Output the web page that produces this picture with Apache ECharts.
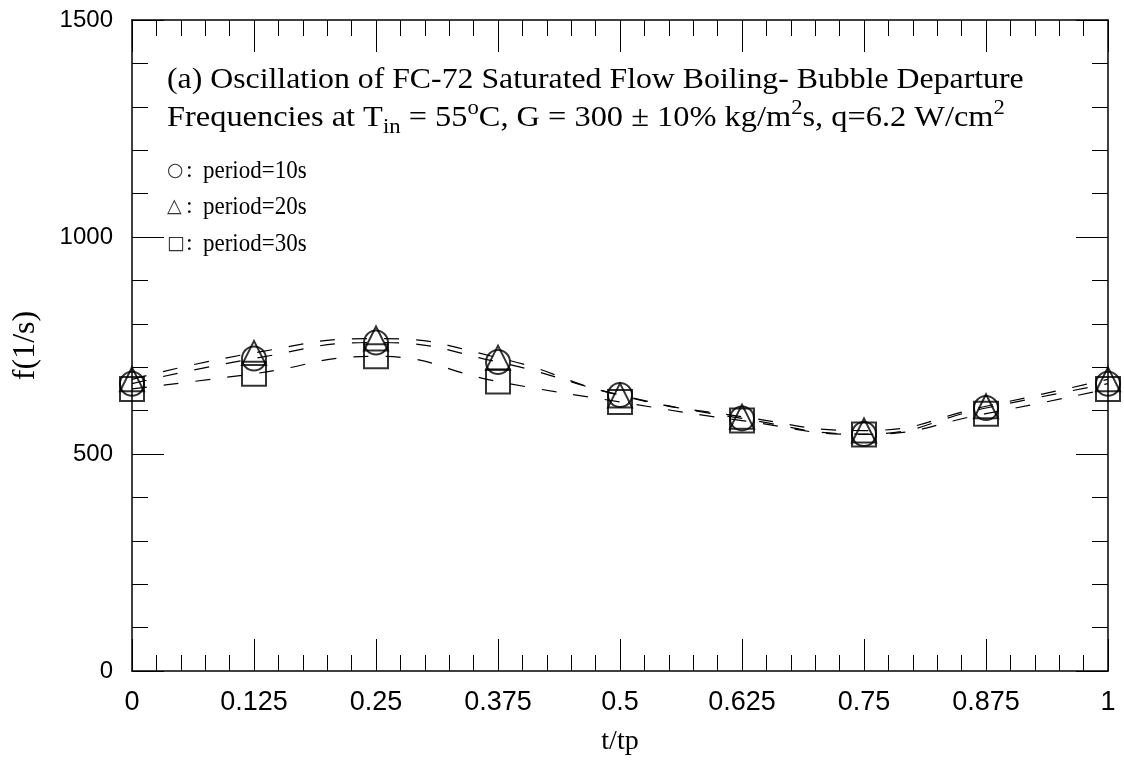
<!DOCTYPE html>
<html>
<head>
<meta charset="utf-8">
<script src="https://cdn.jsdelivr.net/npm/echarts@6/dist/echarts.min.js"></script>
<style>html,body{margin:0;padding:0;background:#fff;}#c{width:1124px;height:761px;}</style>
</head>
<body>
<div id="c"></div>
<script>
// ---- data ----
const tValues = [0, 0.125, 0.25, 0.375, 0.5, 0.625, 0.75, 0.875, 1];
const period10 = [662, 720, 757, 712, 636, 582, 546, 606, 662];
const period20 = [672, 733, 766, 722, 635, 586, 554, 610, 672];
const period30 = [650, 685, 725, 667, 620, 577, 545, 593, 650];
const xTicks = [0, 0.125, 0.25, 0.375, 0.5, 0.625, 0.75, 0.875, 1];
const yTicks = [0, 500, 1000, 1500];
const xTitle = 't/tp';
const yTitle = 'f(1/s)';
const noteLine1 = [['(a) Oscillation of FC-72 Saturated Flow Boiling- Bubble Departure', 'n']];
const noteLine2 = [['Frequencies at T', 'n'], ['in', 'sub'], [' = 55', 'n'], ['o', 'sup'], ['C, G = 300 \u00B1 10% kg/m', 'n'], ['2', 'sup'], ['s, q=6.2 W/cm', 'n'], ['2', 'sup']];
const legendSymbols = ['\u25CB', '\u25B3', '\u25A1'];
const legendTexts = ['period=10s', 'period=20s', 'period=30s'];

const pairs = a => tValues.map((t, i) => [t, a[i]]);

const SERIF = '"Liberation Serif", "Times New Roman", serif';
const SYMFONT = '"DejaVu Sans", sans-serif';
const ctx = document.createElement('canvas').getContext('2d');
function richLine(parts, x, yc, size) {
  const els = [];
  let cx = x;
  parts.forEach(([t, k]) => {
    const fs = k === 'n' ? size : Math.round(size * 0.7);
    const dy = k === 'sub' ? size * 0.33 : (k === 'sup' ? -size * 0.33 : 0);
    ctx.font = fs + 'px ' + SERIF;
    els.push({type: 'text', x: cx, y: yc + dy, style: {text: t, fontSize: fs, fontFamily: SERIF, fill: '#000', textAlign: 'left', textVerticalAlign: 'middle'}});
    cx += ctx.measureText(t).width;
  });
  return els;
}

const FS = 30;
const noteX = 167;
const graphics = [
  {type: 'group', x: noteX, y: 0, scaleX: 1.06, children: richLine(noteLine1, 0, 80, FS)},
  {type: 'group', x: noteX, y: 0, scaleX: 1.08, children: richLine(noteLine2, 0, 118, FS)}
];
const rowY = [171, 207, 244];
legendSymbols.forEach((s, i) => {
  graphics.push({type: 'text', x: 167, y: rowY[i], style: {text: s, fontSize: 19, fontFamily: SYMFONT, fill: '#333', textAlign: 'left', textVerticalAlign: 'middle'}});
  graphics.push({type: 'text', x: 186, y: rowY[i], style: {text: ':', fontSize: 24, fontFamily: SERIF, fill: '#000', textAlign: 'left', textVerticalAlign: 'middle'}});
  graphics.push({type: 'text', x: 203, y: rowY[i], scaleY: 1.1, style: {text: legendTexts[i], fontSize: 23, fontFamily: SERIF, fill: '#000', textAlign: 'left', textVerticalAlign: 'middle'}});
});

const axisCommon = {
  type: 'value', min: 0, max: 1, interval: 0.125,
  axisLine: {show: true, onZero: false, lineStyle: {color: '#000', width: 1.5}},
  axisTick: {show: true, inside: true, length: 32, lineStyle: {color: '#000', width: 1}},
  minorTick: {show: true, splitNumber: 5, length: 16, lineStyle: {color: '#000', width: 1}},
  splitLine: {show: false}, minorSplitLine: {show: false}
};
const yCommon = {
  type: 'value', min: 0, max: 1500, interval: 500,
  axisLine: {show: true, onZero: false, lineStyle: {color: '#000', width: 1.5}},
  axisTick: {show: true, inside: true, length: 32, lineStyle: {color: '#000', width: 1}},
  minorTick: {show: true, splitNumber: 5, length: 16, lineStyle: {color: '#000', width: 1}},
  splitLine: {show: false}, minorSplitLine: {show: false}
};

const markerStyle = {color: 'rgba(0,0,0,0)', borderColor: '#000', borderWidth: 2};
const lineSeries = (d) => ({type: 'line', data: pairs(d), smooth: 0.5, symbol: 'none', z: 1,
  lineStyle: {color: '#000', width: 1.2, type: [15, 17]}});
const scatterSeries = (d, sym) => ({type: 'scatter', data: pairs(d), symbol: sym, symbolSize: 24, z: 3,
  itemStyle: markerStyle});

const chart = echarts.init(document.getElementById('c'), null, {renderer: 'canvas'});
chart.setOption({
  backgroundColor: '#fff',
  animation: false,
  grid: {left: 132, top: 20, right: 16, bottom: 89, containLabel: false},
  xAxis: [
    Object.assign({}, axisCommon, {position: 'bottom',
      name: xTitle, nameLocation: 'middle', nameGap: 57,
      nameTextStyle: {fontFamily: SERIF, fontSize: 28, color: '#000'},
      axisLabel: {show: true, margin: 18, fontFamily: '"Liberation Sans", Arial, sans-serif', fontSize: 27, color: '#000',
        formatter: v => (xTicks.indexOf(v) >= 0 ? String(v) : '')}}),
    Object.assign({}, axisCommon, {position: 'top', axisLabel: {show: false}})
  ],
  yAxis: [
    Object.assign({}, yCommon, {position: 'left',
      name: yTitle, nameLocation: 'middle', nameGap: 90, nameRotate: 90,
      nameTextStyle: {fontFamily: SERIF, fontSize: 32, color: '#000'},
      axisLabel: {show: true, margin: 19, fontFamily: '"Liberation Sans", Arial, sans-serif', fontSize: 24, color: '#000',
        formatter: v => (yTicks.indexOf(v) >= 0 ? String(v) : '')}}),
    Object.assign({}, yCommon, {position: 'right', axisLabel: {show: false}})
  ],
  series: [
    lineSeries(period10), lineSeries(period20), lineSeries(period30),
    scatterSeries(period10, 'circle'), scatterSeries(period20, 'triangle'), scatterSeries(period30, 'rect')
  ],
  graphic: graphics
});
</script>
</body>
</html>
